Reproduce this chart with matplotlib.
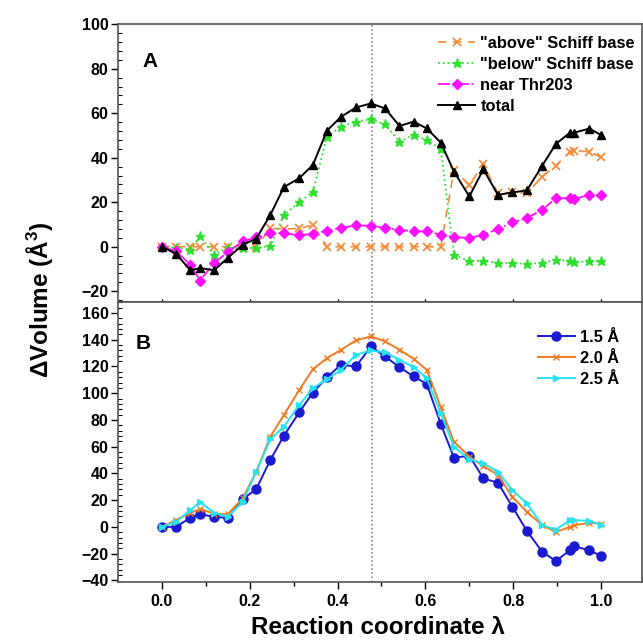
import matplotlib
matplotlib.use("Agg")
import matplotlib.pyplot as plt
from matplotlib.ticker import MultipleLocator, AutoMinorLocator

plt.rcParams['font.family'] = ['Liberation Sans', 'DejaVu Sans']
plt.rcParams['font.weight'] = 'bold'
plt.rcParams['mathtext.fontset'] = 'custom'
plt.rcParams['mathtext.rm'] = 'Liberation Sans'
plt.rcParams['mathtext.bf'] = 'Liberation Sans:bold'

# reaction coordinate samples
lam = [0.0, 0.032, 0.065, 0.087, 0.119, 0.150, 0.184, 0.215, 0.247, 0.278, 0.313,
       0.344, 0.376, 0.408, 0.442, 0.476, 0.508, 0.541, 0.573, 0.603, 0.635, 0.665,
       0.700, 0.732, 0.765, 0.798, 0.831, 0.866, 0.897, 0.929, 0.939, 0.973, 1.0]

# panel A
above = [0, 0, 0, 0, 0, 0, 0.5, 0, 8.2, 8.0, 8.2,
         9.8, 0, 0, 0, 0, 0, 0, 0, 0, 0, 34.5,
         27.8, 37.2, 24.1, 24.4, 24.1, 31.5, 36.5, 42.7, 43.2, 42.7, 40.2]
below = [0, -0.6, -1.3, 4.6, -3.6, -0.6, -0.6, -0.6, 0.4, 14.3, 20.0,
         24.8, 49.5, 54.0, 56.2, 57.4, 55.0, 47.2, 50.2, 48.0, 43.9, -3.6,
         -6.6, -6.3, -7.3, -7.3, -7.8, -7.3, -5.8, -6.6, -6.9, -6.6, -6.6]
thr203 = [0, -2.0, -8.1, -15.2, -7.3, -2.5, 2.4, 4.3, 6.1, 6.1, 5.1,
          5.8, 7.2, 8.4, 9.6, 9.4, 8.4, 7.6, 6.9, 6.9, 5.4, 4.3,
          3.9, 5.4, 7.9, 10.9, 12.9, 16.6, 21.8, 21.8, 21.5, 23.3, 23.3]
total = [0, -3.1, -10.6, -9.6, -10.6, -5.1, 0.9, 3.6, 14.3, 26.8, 30.8,
         36.8, 52.2, 58.4, 62.6, 64.4, 62.2, 54.3, 56.2, 53.2, 46.8, 33.8,
         22.6, 34.8, 23.3, 24.4, 25.3, 36.5, 46.2, 51.3, 51.3, 53.1, 50.2]

# panel B
r15 = [0, 0, 6.75, 9.5, 7.5, 6.75, 20.75, 28.25, 50, 68.25, 85.75,
       100.5, 112, 121.25, 120, 135, 127.5, 119.5, 112.5, 107, 77, 51.75,
       53.25, 36.25, 33, 15, -3, -18.75, -25.5, -17.5, -14.5, -17.5, -21.75]
r20 = [0, 5, 10.5, 13.25, 10, 9.5, 21.25, 41.25, 67.5, 83.75, 102.5,
       118, 126.25, 132.5, 139.5, 142.5, 138.75, 132.5, 125.75, 117.5, 89.5, 63.75,
       52.5, 45.5, 38.75, 22.5, 11.25, 1.25, -3.75, 0, 1.25, 3, 2.5]
r25 = [0, 3.75, 12.5, 18.75, 10.5, 7.5, 18.75, 41.25, 65.5, 75, 91.25,
       103.75, 110.5, 117.5, 128.75, 132, 130.5, 125, 119.5, 111.25, 85, 60,
       50.5, 47.5, 41.25, 27.5, 17.5, 1.25, -2, 5, 5, 4.5, 1.25]

ts_lam = 0.478

fig = plt.figure(figsize=(6.43, 6.44), dpi=100)
L, R = 118.3 / 643, 642 / 643
axA = fig.add_axes([L, 1 - 302.3 / 644, R - L, (302.3 - 24.3) / 644])
axB = fig.add_axes([L, 1 - 581.7 / 644, R - L, (581.7 - 302.3) / 644])

axA.plot(lam, above, color='#f28c3c', ls=(0, (5, 4)), lw=1.2, marker='x', ms=5.5, mew=1.3,
         label='"above" Schiff base')
axA.plot(lam, below, color='#2ee02e', ls=':', lw=1.3, marker='*', ms=6.5,
         label='"below" Schiff base')
axA.plot(lam, thr203, color='#ff10ff', ls='-.', lw=1.3, marker='D', ms=5,
         label='near Thr203')
axA.plot(lam, total, color='black', ls='-', lw=1.4, marker='^', ms=6,
         label='total')

axB.plot(lam, r15, color='#1a1ad0', lw=1.4, marker='o', ms=6.5, label='1.5 Å')
axB.plot(lam, r20, color='#f07c22', lw=1.4, marker='x', ms=4, mew=1, label='2.0 Å')
axB.plot(lam, r25, color='#25e4f0', lw=1.4, marker='>', ms=5, label='2.5 Å')

for ax in (axA, axB):
    ax.axvline(ts_lam, color='#777777', ls=':', lw=1.1, zorder=0)
    ax.set_xlim(-0.099, 1.093)
    ax.xaxis.set_major_locator(MultipleLocator(0.2))
    ax.xaxis.set_minor_locator(MultipleLocator(0.1))
    ax.yaxis.set_major_locator(MultipleLocator(20))
    ax.yaxis.set_minor_locator(AutoMinorLocator(5))
    ax.tick_params(axis='y', which='major', direction='out', length=5, width=1,
                   labelsize=11.5, pad=2)
    ax.tick_params(axis='y', which='minor', direction='in', length=3, width=0.8)
    ax.tick_params(axis='x', which='both', direction='out', width=1, labelsize=11.5)
    ax.tick_params(axis='x', which='major', length=5)
    ax.tick_params(axis='x', which='minor', length=3)
    for s in ax.spines.values():
        s.set_color('#555555')
        s.set_linewidth(1.2)
    for lab in ax.get_xticklabels() + ax.get_yticklabels():
        lab.set_fontweight('bold')

axA.set_ylim(-25, 100)
axA.tick_params(axis='x', labelbottom=False, direction='inout')
axB.set_ylim(-41, 168)
axB.set_yticks(range(-40, 161, 20))

axA.text(0.06, 0.865, 'A', transform=axA.transAxes, fontsize=15, fontweight='bold',
         ha='center', va='center')
axB.text(0.047, 0.854, 'B', transform=axB.transAxes, fontsize=15, fontweight='bold',
         ha='center', va='center')

axA.legend(loc='upper right', bbox_to_anchor=(1.005, 0.995), frameon=False,
           prop={'size': 11.8, 'weight': 'bold'}, handlelength=2.25,
           handletextpad=0.3, labelspacing=0.38, borderaxespad=0.2)
axB.legend(loc='upper right', bbox_to_anchor=(0.984, 0.955), frameon=False,
           prop={'size': 11.8, 'weight': 'bold'}, handlelength=2.25,
           handletextpad=0.3, labelspacing=0.38)

fig.text(378 / 643, 1 - 628 / 644, 'Reaction coordinate λ', fontsize=17.5,
         fontweight='bold', ha='center', va='center')
fig.text(40 / 643, 1 - 300 / 644, r'ΔVolume (Å$^{\mathbf{3}}$)', fontsize=17.5,
         fontweight='bold', ha='center', va='center', rotation=90)

fig.savefig('out.png', dpi=100)
